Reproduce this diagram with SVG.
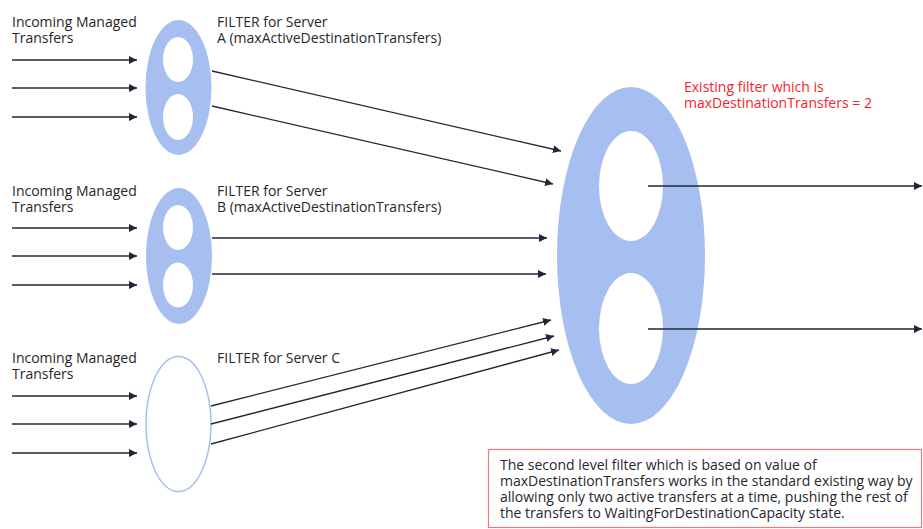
<svg xmlns="http://www.w3.org/2000/svg" width="923" height="529" viewBox="0 0 923 529">
  <defs>
    <marker id="ah" viewBox="0 0 10 10" refX="10" refY="5" markerWidth="8" markerHeight="8" markerUnits="userSpaceOnUse" orient="auto">
      <path d="M0,0 L10,5 L0,10 z" fill="#1e2838"/>
    </marker>
    <style>
      .t { font-family: "Open Sans", "Noto Sans", "Liberation Sans", sans-serif; font-size: 14px; fill: #25282e; }
      .red { fill: #f5242a; }
      .blue { fill: #a7bff0; }
      .hole { fill: #ffffff; }
      .c { stroke: #1e2838; stroke-width: 1.3; fill: none; marker-end: url(#ah); }
    </style>
  </defs>
  <rect width="923" height="529" fill="#ffffff"/>

  <g id="labelA">
    <text class="t" x="12" y="27">Incoming Managed</text>
    <text class="t" x="12" y="43">Transfers</text>
    <text class="t" x="217" y="27">FILTER for Server</text>
    <text class="t" x="217" y="43">A (maxActiveDestinationTransfers)</text>
  </g>
  <g id="labelB">
    <text class="t" x="12" y="196">Incoming Managed</text>
    <text class="t" x="12" y="212">Transfers</text>
    <text class="t" x="217" y="196">FILTER for Server</text>
    <text class="t" x="217" y="212">B (maxActiveDestinationTransfers)</text>
  </g>
  <g id="labelC">
    <text class="t" x="12" y="363">Incoming Managed</text>
    <text class="t" x="12" y="379">Transfers</text>
    <text class="t" x="217" y="363">FILTER for Server C</text>
  </g>

  <g id="filterA">
    <ellipse class="blue" cx="178.5" cy="87.5" rx="33" ry="67.5"/>
    <ellipse class="hole" cx="178" cy="59.5" rx="15" ry="22.5"/>
    <ellipse class="hole" cx="178" cy="117" rx="15" ry="23"/>
  </g>
  <g id="filterB">
    <ellipse class="blue" cx="179" cy="256" rx="33" ry="68"/>
    <ellipse class="hole" cx="178" cy="227.5" rx="15" ry="22.5"/>
    <ellipse class="hole" cx="178" cy="285" rx="15" ry="22.5"/>
  </g>
  <g id="filterC">
    <ellipse cx="178.5" cy="424" rx="32.5" ry="67.5" fill="#ffffff" stroke="#a7bff0" stroke-width="1.5"/>
  </g>

  <g id="filterDest">
    <ellipse class="blue" cx="631" cy="255.5" rx="74" ry="168.5"/>
    <ellipse class="hole" cx="631" cy="186" rx="32" ry="55"/>
    <ellipse class="hole" cx="631" cy="328.5" rx="32" ry="55.5"/>
  </g>

  <g id="existingLabel">
    <text class="t red" x="684" y="92">Existing filter which is</text>
    <text class="t red" x="684" y="108">maxDestinationTransfers = 2</text>
  </g>

  <g id="note">
    <rect x="488.5" y="449.5" width="433" height="78" fill="#ffffff" stroke="#f0787c" stroke-width="1.2"/>
    <text class="t" x="500" y="470">The second level filter which is based on value of</text>
    <text class="t" x="500" y="486">maxDestinationTransfers works in the standard existing way by</text>
    <text class="t" x="500" y="502">allowing only two active transfers at a time, pushing the rest of</text>
    <text class="t" x="500" y="518">the transfers to WaitingForDestinationCapacity state.</text>
  </g>

  <g id="connectors">
    <line class="c" x1="12" y1="60" x2="137" y2="60"/>
    <line class="c" x1="12" y1="88" x2="137" y2="88"/>
    <line class="c" x1="12" y1="117" x2="137" y2="117"/>
    <line class="c" x1="12" y1="228" x2="137" y2="228"/>
    <line class="c" x1="12" y1="256" x2="137" y2="256"/>
    <line class="c" x1="12" y1="285" x2="137" y2="285"/>
    <line class="c" x1="12" y1="396" x2="137" y2="396"/>
    <line class="c" x1="12" y1="424" x2="137" y2="424"/>
    <line class="c" x1="12" y1="453" x2="137" y2="453"/>

    <line class="c" x1="212" y1="71" x2="561" y2="151"/>
    <line class="c" x1="212" y1="106" x2="553" y2="184"/>
    <line class="c" x1="212" y1="238" x2="547" y2="238"/>
    <line class="c" x1="212" y1="274" x2="546" y2="274"/>
    <line class="c" x1="211" y1="406" x2="551" y2="320"/>
    <line class="c" x1="211" y1="424" x2="554" y2="336"/>
    <line class="c" x1="211" y1="444" x2="559" y2="350"/>

    <line class="c" x1="648" y1="186" x2="922" y2="186"/>
    <line class="c" x1="648" y1="329" x2="922" y2="329"/>
  </g>
</svg>
